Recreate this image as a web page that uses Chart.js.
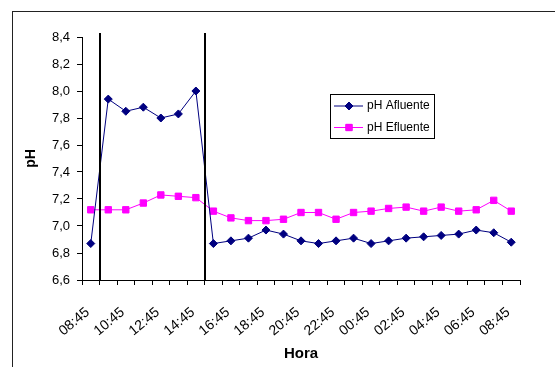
<!DOCTYPE html>
<html>
<head>
<meta charset="utf-8">
<script src="https://cdn.jsdelivr.net/npm/chart.js@4"></script>
<style>
  html, body { margin: 0; padding: 0; background: #fff; }
  #wrap { width: 555px; height: 367px; }
</style>
</head>
<body>
<div id="wrap"><canvas id="myChart" width="555" height="367"></canvas></div>
<script>
// hourly readings, one day
var horas = ['08:45', '09:45', '10:45', '11:45', '12:45', '13:45', '14:45', '15:45',
    '16:45', '17:45', '18:45', '19:45', '20:45', '21:45', '22:45', '23:45',
    '00:45', '01:45', '02:45', '03:45', '04:45', '05:45', '06:45', '07:45', '08:45'];
var phAfluente = [6.87, 7.94, 7.85, 7.88, 7.80, 7.83, 8.00, 6.87, 6.89, 6.91, 6.97, 6.94, 6.89,
    6.87, 6.89, 6.91, 6.87, 6.89, 6.91, 6.92, 6.93, 6.94, 6.97, 6.95, 6.88];
var phEfluente = [7.12, 7.12, 7.12, 7.17, 7.23, 7.22, 7.21, 7.11, 7.06, 7.04, 7.04, 7.05, 7.10,
    7.10, 7.05, 7.10, 7.11, 7.13, 7.14, 7.11, 7.14, 7.11, 7.12, 7.19, 7.11];
// vertical marks between categories (index positions)
var separadores = [0.5, 6.5];
var sepTop = 8.43;

var fonte = 'Arial, "Liberation Sans", sans-serif';

var framePlugin = {
    id: 'frame',
    beforeDraw: function(chart) {
        var c = chart.ctx;
        c.save();
        c.fillStyle = '#fff';
        c.fillRect(0, 0, chart.width, chart.height);
        c.strokeStyle = '#222';
        c.lineWidth = 1;
        c.strokeRect(12.5, 11.5, 700, 500);
        c.restore();
    }
};

var sepPlugin = {
    id: 'separadores',
    afterDatasetsDraw: function(chart) {
        var c = chart.ctx, x = chart.scales.x, y = chart.scales.y;
        c.save();
        c.strokeStyle = '#000';
        c.lineWidth = 2;
        separadores.forEach(function(s) {
            var px = Math.round(x.getPixelForValue(s));
            c.beginPath();
            c.moveTo(px, y.getPixelForValue(sepTop));
            c.lineTo(px, chart.chartArea.bottom);
            c.stroke();
        });
        c.restore();
    }
};

var legendPlugin = {
    id: 'legendaBox',
    afterDraw: function(chart) {
        var c = chart.ctx;
        var bx = 330.5, by = 94.5, bw = 104, bh = 44;
        c.save();
        c.strokeStyle = '#000';
        c.lineWidth = 1;
        c.strokeRect(bx, by, bw, bh);
        c.font = '12px ' + fonte;
        c.textBaseline = 'middle';
        c.textAlign = 'left';
        chart.data.datasets.forEach(function(ds, i) {
            var yy = 106 + i * 21.5;
            c.strokeStyle = ds.borderColor;
            c.lineWidth = 1;
            c.beginPath();
            c.moveTo(334, yy);
            c.lineTo(363, yy);
            c.stroke();
            Chart.helpers.drawPoint(c, {
                pointStyle: ds.pointStyle, radius: ds.pointRadius, borderWidth: 1
            }, 349, yy);
            c.fillStyle = ds.borderColor;
            c.fill();
            c.fillStyle = '#000';
            c.fillText(ds.label, 367, yy);
        });
        c.restore();
    }
};

var ctx = document.getElementById('myChart').getContext('2d');
var myChart = new Chart(ctx, {
    type: 'line',
    data: {
        labels: horas,
        datasets: [
            {
                label: 'pH Afluente',
                data: phAfluente,
                borderColor: '#000080',
                backgroundColor: '#000080',
                borderWidth: 1,
                pointStyle: 'rectRot',
                pointRadius: 4,
                pointBorderWidth: 1,
            },
            {
                label: 'pH Efluente',
                data: phEfluente,
                borderColor: '#ff00ff',
                backgroundColor: '#ff00ff',
                borderWidth: 1,
                pointStyle: 'rect',
                pointRadius: 4.5,
                pointBorderWidth: 1,
            }
        ]
    },
    options: {
        responsive: false,
        animation: false,
        layout: { padding: { left: 0, top: 37, right: 35, bottom: 0 } },
        plugins: {
            legend: { display: false },
            tooltip: { enabled: false }
        },
        scales: {
            x: {
                offset: true,
                afterFit: function(s) { s.height = 87; },
                grid: { display: true, drawOnChartArea: false, offset: true, tickLength: 5, color: '#000' },
                border: { color: '#000', width: 1 },
                ticks: {
                    autoSkip: false,
                    minRotation: 40,
                    maxRotation: 40,
                    padding: 19,
                    labelOffset: -3,
                    color: '#000',
                    font: { family: fonte, size: 14 },
                    callback: function(v, i) { return i % 2 === 0 ? horas[i] : ''; }
                },
                title: {
                    display: true,
                    text: 'Hora',
                    color: '#000',
                    font: { family: fonte, size: 15, weight: 'bold' },
                    padding: { top: 0, bottom: 4.5 }
                }
            },
            y: {
                min: 6.6,
                max: 8.4,
                afterFit: function(s) { s.width = 82; },
                grid: { display: true, drawOnChartArea: false, tickLength: 5, color: '#000' },
                border: { color: '#000', width: 1 },
                ticks: {
                    stepSize: 0.2,
                    padding: 7,
                    color: '#000',
                    font: { family: fonte, size: 13 },
                    callback: function(v) { return v.toFixed(1).replace('.', ','); }
                },
                title: {
                    display: true,
                    text: 'pH',
                    color: '#000',
                    font: { family: fonte, size: 14, weight: 'bold' },
                    padding: { top: 23, bottom: 0 }
                }
            }
        }
    },
    plugins: [framePlugin, sepPlugin, legendPlugin]
});
</script>
</body>
</html>
